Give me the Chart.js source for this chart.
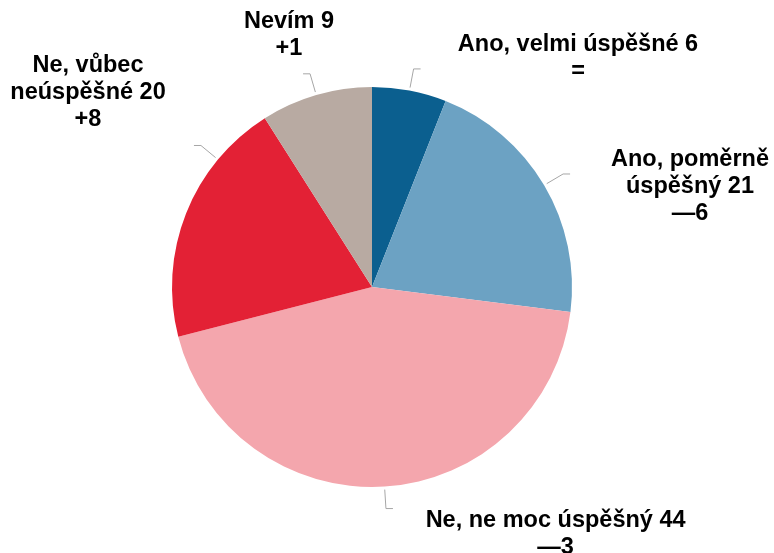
<!DOCTYPE html>
<html>
<head>
<meta charset="utf-8">
<script src="https://cdn.jsdelivr.net/npm/chart.js@4/dist/chart.umd.min.js"></script>
<style>
  html, body { margin: 0; padding: 0; background: #fff; }
  canvas { display: block; }
</style>
</head>
<body>
<canvas id="pie" width="774" height="553"></canvas>
<script>
// categories (line-broken as in the picture), shares and change vs. previous wave
const categories = [['Ano, velmi úspěšné'], ['Ano, poměrně', 'úspěšný'], ['Ne, ne moc úspěšný'], ['Ne, vůbec', 'neúspěšné'], ['Nevím']];
const values = [6, 21, 44, 20, 9];
const changes = ['=', '—6', '—3', '+8', '+1'];
const colors = ['#0b5f8f', '#6ca2c3', '#f4a6ad', '#e32135', '#b8aaa2'];

// label placement relative to pie centre, in radius units; leader position inside slice (0..1)
const labelPos = [[1.03, -1.145], [1.59, -0.5], [0.918, 1.237], [-1.42, -0.97], [-0.415, -1.26]];
const leaderAt = [0.5, 0.5, 0.5, 0.75, 0.5];

const labels = {
  id: 'outLabels',
  afterDatasetsDraw(chart) {
    const { ctx } = chart;
    const arcs = chart.getDatasetMeta(0).data;
    ctx.save();
    arcs.forEach((arc, i) => {
      const { x, y, outerRadius: r, startAngle, endAngle } = arc.getProps(['x', 'y', 'outerRadius', 'startAngle', 'endAngle'], true);
      const a = startAngle + (endAngle - startAngle) * leaderAt[i];
      const lx = x + labelPos[i][0] * r;
      const ly = y + labelPos[i][1] * r;
      // leader line
      const x0 = x + Math.cos(a) * (r + 3), y0 = y + Math.sin(a) * (r + 3);
      const x1 = x + Math.cos(a) * (r + 22), y1 = y + Math.sin(a) * (r + 22);
      const dir = lx >= x1 ? 1 : -1;
      ctx.strokeStyle = '#a6a6a6';
      ctx.lineWidth = 1;
      ctx.beginPath();
      ctx.moveTo(x0, y0);
      ctx.lineTo(x1, y1);
      ctx.lineTo(x1 + dir * 7, y1);
      ctx.stroke();
      // text
      const lines = categories[i].slice();
      lines[lines.length - 1] += ' ' + values[i];
      lines.push(changes[i]);
      const lh = 27;
      ctx.fillStyle = '#000';
      ctx.font = 'bold 23.5px "Liberation Sans", Arial, sans-serif';
      ctx.textAlign = 'center';
      ctx.textBaseline = 'middle';
      lines.forEach((t, k) => {
        ctx.fillText(t, lx, ly + (k - (lines.length - 1) / 2) * lh);
      });
    });
    ctx.restore();
  }
};

new Chart(document.getElementById('pie'), {
  type: 'pie',
  data: {
    labels: categories.map((c) => c.join(' ')),
    datasets: [{ data: values, backgroundColor: colors, borderWidth: 0 }]
  },
  options: {
    responsive: false,
    animation: false,
    layout: { padding: { left: 172, right: 202, top: 87, bottom: 66 } },
    plugins: { legend: { display: false }, tooltip: { enabled: false } }
  },
  plugins: [labels]
});
</script>
</body>
</html>
